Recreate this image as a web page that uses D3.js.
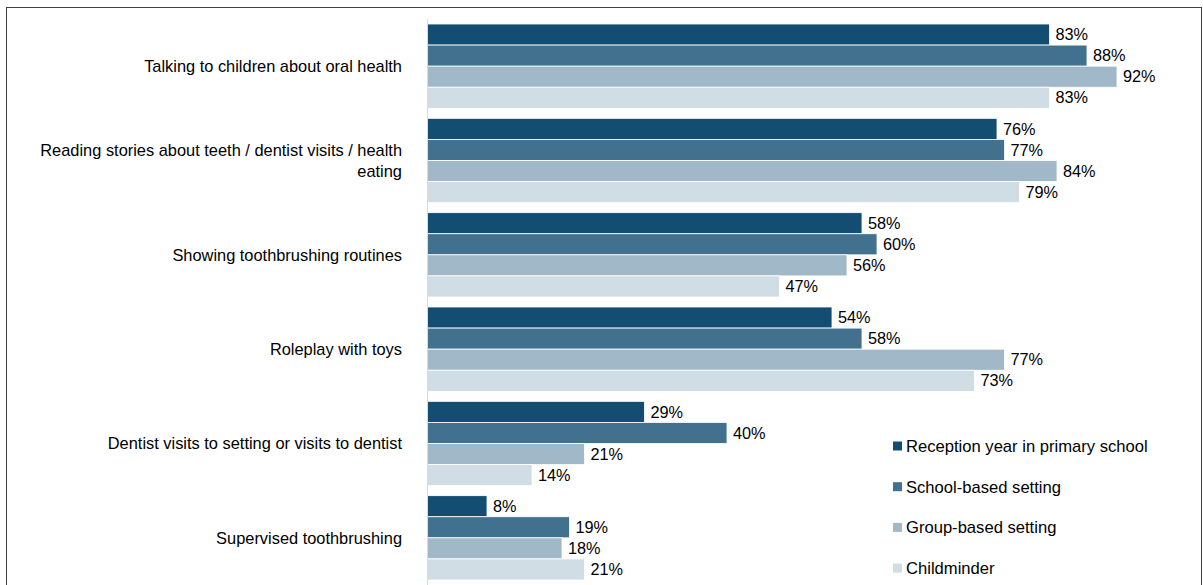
<!DOCTYPE html>
<html>
<head>
<meta charset="utf-8">
<script src="https://cdn.jsdelivr.net/npm/d3@7/dist/d3.min.js"></script>
<style>
  html, body { margin: 0; padding: 0; background: #fff; }
  svg { display: block; font-family: "Liberation Sans", Arial, sans-serif; }
</style>
</head>
<body>
<svg id="chart" width="1203" height="585"></svg>
<script>
const categories = [
  ["Talking to children about oral health"],
  ["Reading stories about teeth / dentist visits / health", "eating"],
  ["Showing toothbrushing routines"],
  ["Roleplay with toys"],
  ["Dentist visits to setting or visits to dentist"],
  ["Supervised toothbrushing"]
];
const seriesNames = ["Reception year in primary school", "School-based setting", "Group-based setting", "Childminder"];
const reception = [83, 76, 58, 54, 29, 8];
const schoolBased = [88, 77, 60, 58, 40, 19];
const groupBased = [92, 84, 56, 77, 21, 18];
const childminder = [83, 79, 47, 73, 14, 21];
const colors = ["#134e72", "#41718f", "#a1b8c8", "#d0dde5"];

const series = [reception, schoolBased, groupBased, childminder];

const svg = d3.select("#chart");
const W = 1203, H = 585;

// outer frame
svg.append("rect")
  .attr("x", 6.5).attr("y", 7.5)
  .attr("width", 1195).attr("height", 600)
  .attr("fill", "none").attr("stroke", "#404040").attr("stroke-width", 1);

const x = d3.scaleLinear().domain([0, 100]).range([427, 1177]);
const y = d3.scaleBand().domain(d3.range(categories.length)).range([19, 585])
  .paddingInner(0.106).paddingOuter(0.053);
const inner = d3.scaleBand().domain(d3.range(series.length)).range([0, y.bandwidth()]);

// bars
series.forEach((vals, si) => {
  const g = svg.append("g");
  g.selectAll("rect").data(vals).join("rect")
    .attr("x", x(0))
    .attr("y", (d, i) => y(i) + inner(si))
    .attr("width", d => x(d) - x(0))
    .attr("height", inner.bandwidth())
    .attr("fill", colors[si])
    .attr("stroke", "#fff").attr("stroke-width", 0.8);
  g.selectAll("text").data(vals).join("text")
    .attr("x", d => x(d) + 6)
    .attr("y", (d, i) => y(i) + inner(si) + inner.bandwidth() / 2)
    .attr("dy", "0.35em")
    .attr("font-size", 16.3)
    .attr("fill", "#000")
    .text(d => d + "%");
});

// category axis line
svg.append("line")
  .attr("x1", x(0) + 0.5).attr("x2", x(0) + 0.5)
  .attr("y1", 19).attr("y2", H)
  .attr("stroke", "#d9d9d9").attr("stroke-width", 1);

// category labels
const lab = svg.append("g").attr("font-size", 16.4).attr("fill", "#000").attr("text-anchor", "end");
categories.forEach((lines, i) => {
  const cy = y(i) + y.bandwidth() / 2;
  const lh = 21;
  lines.forEach((ln, j) => {
    lab.append("text")
      .attr("x", 402)
      .attr("y", cy + (j - (lines.length - 1) / 2) * lh)
      .attr("dy", "0.35em")
      .text(ln);
  });
});

// legend
const leg = svg.append("g");
seriesNames.forEach((name, i) => {
  const ly = 446 + i * 40.7;
  leg.append("rect")
    .attr("x", 893).attr("y", ly - 4.5)
    .attr("width", 9).attr("height", 9)
    .attr("fill", colors[i]);
  leg.append("text")
    .attr("x", 906).attr("y", ly)
    .attr("dy", "0.35em")
    .attr("font-size", 16.6)
    .attr("fill", "#000")
    .text(name);
});
</script>
</body>
</html>
